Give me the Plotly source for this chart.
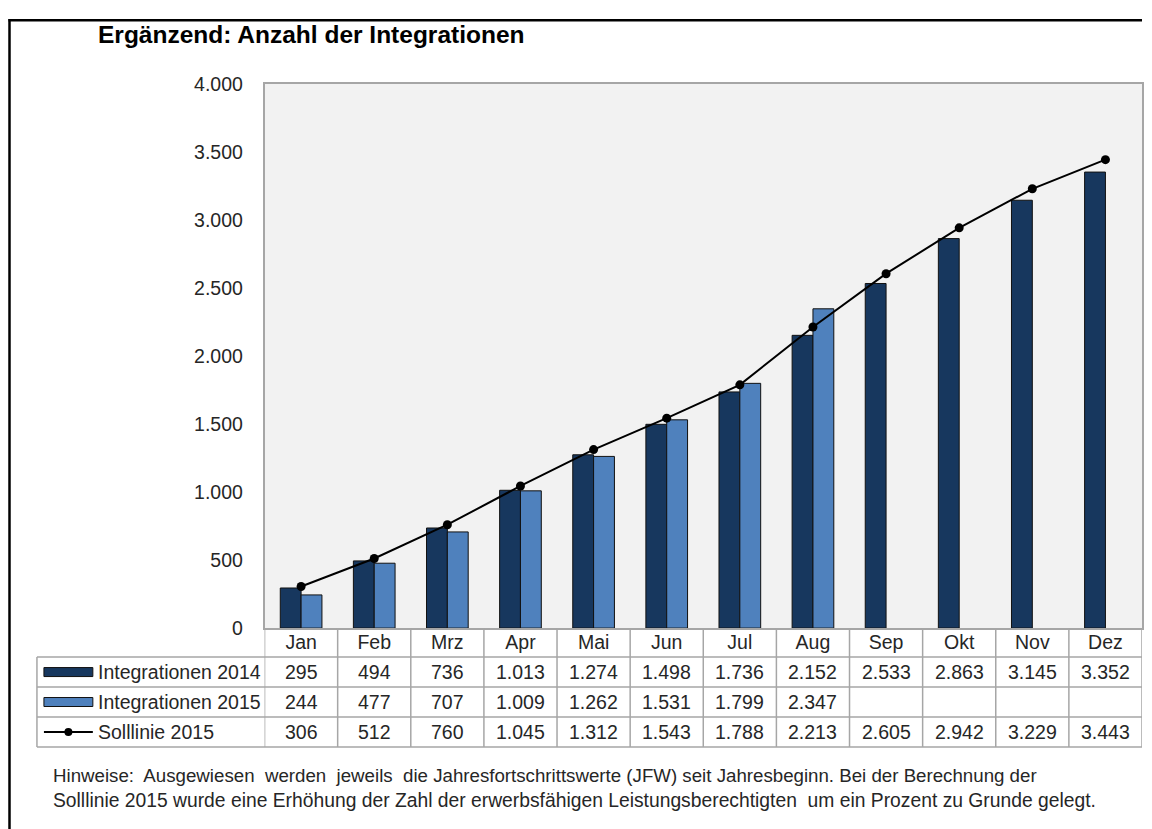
import plotly.graph_objects as go

months = ["Jan", "Feb", "Mrz", "Apr", "Mai", "Jun", "Jul", "Aug", "Sep", "Okt", "Nov", "Dez"]
int_2014 = [295, 494, 736, 1013, 1274, 1498, 1736, 2152, 2533, 2863, 3145, 3352]
int_2015 = [244, 477, 707, 1009, 1262, 1531, 1799, 2347]
soll_2015 = [306, 512, 760, 1045, 1312, 1543, 1788, 2213, 2605, 2942, 3229, 3443]
series_names = ["Integrationen 2014", "Integrationen 2015", "Solllinie 2015"]
y_ticks = [0, 500, 1000, 1500, 2000, 2500, 3000, 3500, 4000]

title_text = "Ergänzend: Anzahl der Integrationen"
S = "\u00a0 "
note_lines = [
    "Hinweise:" + S + "Ausgewiesen" + S + "werden" + S + "jeweils" + S + "die Jahresfortschrittswerte"
    + " (JFW) seit Jahresbeginn. Bei der Berechnung der",
    "Solllinie 2015 wurde eine Erhöhung der Zahl der erwerbsfähigen Leistungsberechtigten" + S
    + "um ein Prozent zu Grunde gelegt.",
]
note_sizes = [18.7, 19.3]

# empirical mapping of figure pixels to the final picture
XOFF, YOFF, YSCALE = 8, 17, 0.975
W, H = 1136, 833
C_DARK = "#17375E"
C_LIGHT = "#4F81BD"
GRID = "#A6A6A6"
TXT = "#262626"
FONT = "Liberation Sans, Arial, sans-serif"
FS = 19.5

def px(x):
    return (x - XOFF) / W

def py(y):
    return 1 - ((y - YOFF) / YSCALE) / H

PL, PR, PT, PB = 265, 1144, 82, 627

fig = go.Figure()
fig.add_trace(go.Bar(x=months, y=int_2014, name=series_names[0],
                     marker=dict(color=C_DARK, line=dict(color="#111111", width=1))))
fig.add_trace(go.Bar(x=months[:len(int_2015)], y=int_2015, name=series_names[1],
                     marker=dict(color=C_LIGHT, line=dict(color="#111111", width=1))))
fig.add_trace(go.Scatter(x=months, y=soll_2015, name=series_names[2], mode="lines+markers",
                         line=dict(color="black", width=2), marker=dict(color="black", size=9)))

def fmt(v):
    return f"{v:,}".replace(",", ".")

shapes = []
annotations = []

# table rows
row_lines = [656, 686, 716, 746]
row_centers = [(row_lines[i] + row_lines[i + 1]) / 2 for i in range(3)]
rows = [int_2014, int_2015, soll_2015]
for r, vals in enumerate(rows):
    for i, v in enumerate(vals):
        annotations.append(dict(x=months[i], xref="x", y=py(row_centers[r]), yref="paper", text=fmt(v),
                                showarrow=False, font=dict(family=FONT, size=FS, color=TXT),
                                xanchor="center", yanchor="middle"))
    annotations.append(dict(x=px(96), xref="paper", y=py(row_centers[r]), yref="paper", text=series_names[r],
                            showarrow=False, font=dict(family=FONT, size=FS, color=TXT),
                            xanchor="left", yanchor="middle"))

# legend keys
for r, col in enumerate([C_DARK, C_LIGHT]):
    cy = row_centers[r]
    shapes.append(dict(type="rect", xref="paper", yref="paper", x0=px(44), x1=px(93), y0=py(cy - 4.5), y1=py(cy + 4.5),
                       fillcolor=col, line=dict(color="#111111", width=1)))
cy = row_centers[2]
shapes.append(dict(type="line", xref="paper", yref="paper", x0=px(44), x1=px(93), y0=py(cy), y1=py(cy),
                   line=dict(color="black", width=2)))
shapes.append(dict(type="circle", xref="paper", yref="paper", x0=px(64.5), x1=px(72.5), y0=py(cy - 4), y1=py(cy + 4),
                   fillcolor="black", line=dict(color="black", width=0)))

# table grid lines
for y in row_lines:
    shapes.append(dict(type="line", xref="paper", yref="paper", x0=px(37), x1=px(PR), y0=py(y), y1=py(y),
                       line=dict(color=GRID, width=1.5)))
shapes.append(dict(type="line", xref="paper", yref="paper", x0=px(37), x1=px(37), y0=py(656), y1=py(746),
                   line=dict(color=GRID, width=1.5)))
for i in range(len(months) + 1):
    shapes.append(dict(type="line", xref="x", yref="paper", x0=i - 0.5, x1=i - 0.5, y0=py(PB), y1=py(746),
                       line=dict(color=GRID, width=1.5)))

# outer frame (left + top)
shapes.append(dict(type="line", xref="paper", yref="paper", x0=px(9.5), x1=px(9.5), y0=1, y1=0,
                   line=dict(color="black", width=2.5)))
shapes.append(dict(type="line", xref="paper", yref="paper", x0=px(8.5), x1=1, y0=0.9985, y1=0.9985,
                   line=dict(color="black", width=2.5)))

# title
annotations.append(dict(x=px(96), xref="paper", y=py(33), yref="paper", text="<b>" + title_text + "</b>",
                        showarrow=False, font=dict(family=FONT, size=24.5, color="black"),
                        xanchor="left", yanchor="middle"))
# notes
for k, line in enumerate(note_lines):
    annotations.append(dict(x=px(51), xref="paper", y=py(775 + 25 * k), yref="paper", text=line,
                            showarrow=False, font=dict(family=FONT, size=note_sizes[k], color=TXT),
                            xanchor="left", yanchor="middle"))

fig.update_layout(
    width=W, height=H,
    margin=dict(l=0, r=0, t=0, b=0),
    paper_bgcolor="white",
    plot_bgcolor="#F2F2F2",
    barmode="group",
    bargap=0.43,
    bargroupgap=0,
    showlegend=False,
    separators=",.",
    shapes=shapes,
    annotations=annotations,
    font=dict(family=FONT, size=FS, color=TXT),
)
fig.update_xaxes(domain=[px(PL), px(PR)], showline=True, linecolor=GRID, linewidth=1.5, mirror=True,
                 showgrid=False, ticks="", tickfont=dict(size=FS, color=TXT), ticklabelstandoff=-4,
                 range=[-0.5, 11.5])
fig.update_yaxes(domain=[py(PB), py(PT)], range=[0, 4000], tickvals=y_ticks, tickformat=",d",
                 showline=True, linecolor=GRID, linewidth=1.5, mirror=True, showgrid=False, zeroline=False,
                 ticks="", tickfont=dict(size=FS, color=TXT), ticklabelstandoff=16)

fig.write_html("out.html")
